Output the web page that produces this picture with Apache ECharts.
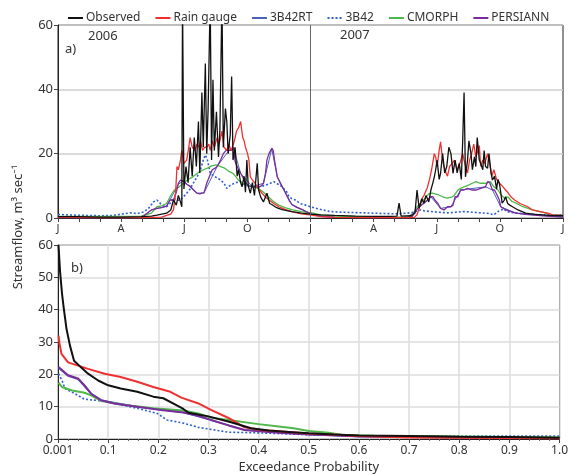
<!DOCTYPE html>
<html>
<head>
<meta charset="utf-8">
<script src="https://cdn.jsdelivr.net/npm/echarts@6/dist/echarts.min.js"></script>
<style>
  html, body { margin: 0; padding: 0; background: #fff; }
  #chart { width: 571px; height: 475px; }
</style>
</head>
<body>
<div id="chart"></div>
<script>
// day of record (0 = 1 Jan 2006), streamflow m3/s
const quarterLabels = ['J', 'A', 'J', 'O']
const seriesNames = ['Observed', 'Rain gauge', '3B42RT', '3B42', 'CMORPH', 'PERSIANN']

const obsDaily = [
  [0, 0.4], [30, 0.4], [60, 0.3], [90, 0.3], [120, 0.4], [135, 0.6], [143, 0.9], [150, 1.2], [157, 1.5],
  [163, 2.5], [167, 5.6], [171, 4], [174, 7], [177, 5], [179, 3.5], [180, 68], [182, 9], [185, 16], [188, 11],
  [191, 22], [194, 13], [197, 25], [200, 16], [203, 30], [205, 14], [208, 39], [210, 22], [213, 48], [215, 20],
  [217, 34], [220, 68], [222, 18], [224, 43], [226, 21], [229, 33], [232, 19], [234, 27], [237, 68], [239, 22],
  [242, 34], [244, 30], [246, 20], [249, 26], [251, 44], [253, 18], [256, 22], [259, 13], [261, 15], [264, 11],
  [266, 9.7], [269, 13], [271, 8], [273, 18], [275, 10], [278, 7.7], [281, 11], [284, 7], [288, 17], [290, 8.7],
  [293, 6.5], [297, 5], [302, 7.7], [306, 4.5], [309, 4.2], [316, 3.2], [324, 2.6], [338, 2.0], [352, 1.5],
  [365, 1.2], [380, 1.0], [400, 0.8], [430, 0.6], [460, 0.5], [480, 0.5], [490, 0.6], [493, 4.6], [496, 0.6],
  [510, 0.7], [516, 1.5], [519, 8.7], [522, 3], [526, 6], [529, 4.6], [532, 7], [536, 5], [539, 8.7], [542, 11],
  [544, 12.8], [546, 15], [548, 18], [551, 12], [553, 13.9], [556, 20], [559, 14], [562, 16], [565, 22], [568, 20],
  [571, 13.9], [574, 18], [577, 14], [580, 17], [583, 12], [585, 24], [587, 39], [589, 12.8], [592, 18], [594, 24],
  [597, 20], [599, 15], [602, 19], [604, 16], [606, 25], [609, 18], [611, 17], [614, 15], [616, 21], [618, 16],
  [621, 15.5], [623, 20], [626, 14], [628, 11.8], [631, 13], [634, 9], [636, 12], [638, 10.8], [640, 8], [642, 4.6],
  [645, 5.5], [647, 6.6], [650, 4.5], [653, 4], [657, 3.5], [665, 2.5], [676, 1.5], [690, 1.1], [710, 0.8], [730, 0.7]
]

const gaugeDaily = [
  [0, 0.2], [60, 0.1], [120, 0.1], [150, 0.3], [157, 0.8], [163, 1.2], [167, 2.6], [170, 8], [172, 16], [174, 15],
  [177, 18], [179, 21], [182, 17], [186, 18], [189, 22], [191, 25], [194, 22], [198, 21], [201, 23], [204, 22],
  [206, 24], [209, 21], [212, 22], [215, 22], [218, 23], [220, 21], [223, 24], [226, 22], [230, 25], [233, 23],
  [237, 27], [240, 22], [244, 21], [247, 23], [250, 21], [252, 22], [255, 24], [258, 27], [261, 28], [264, 30],
  [267, 25], [269, 24], [271, 22], [274, 20], [276, 18], [278, 12.8], [282, 11.5], [285, 10.8], [290, 9], [295, 7.7],
  [300, 6.5], [305, 5.6], [312, 4.5], [319, 3.5], [328, 2.7], [338, 2.0], [352, 1.3], [367, 0.9], [380, 0.4],
  [400, 0.2], [450, 0.1], [510, 0.1], [515, 0.2], [519, 1], [522, 3], [525, 5.6], [529, 7], [534, 9.5], [537, 12],
  [540, 15], [544, 20], [546, 19], [548, 16], [551, 21], [553, 23.7], [556, 18], [558, 16], [561, 14], [563, 13],
  [566, 16], [570, 17], [573, 18], [577, 15], [581, 17], [585, 20], [588, 17], [592, 14], [595, 18], [599, 21],
  [601, 23], [604, 19], [607, 21], [609, 22.5], [611, 16], [614, 18], [617, 17], [621, 20], [624, 17], [627, 13],
  [630, 15], [634, 12], [638, 10.8], [642, 10], [647, 8.7], [650, 8], [655, 6.5], [660, 5.6], [668, 4.5], [679, 3.5],
  [686, 2.5], [697, 2.0], [708, 1.5], [715, 1.0], [730, 0.8]
]

const rtDaily = [
  [0, 0.1], [120, 0.1], [135, 2.5], [157, 3.7], [174, 10.5], [181, 11.5], [201, 7.7], [211, 7.8], [230, 16],
  [247, 21], [254, 21.5], [264, 13.9], [281, 9.7], [297, 10.8], [309, 21.5], [317, 12.8], [338, 4.2], [367, 1.2],
  [400, 0.2], [505, 0.1], [529, 4.6], [539, 6.6], [553, 3], [568, 3.5], [582, 8.7], [618, 9.7], [628, 8.7],
  [640, 3.5], [662, 1.5], [730, 0.3]
]

const trmmDaily = [
  [0, 1.1], [20, 0.9], [40, 0.8], [60, 0.7], [80, 0.8], [104, 1.6], [115, 1.4], [124, 1.9], [131, 3], [138, 5],
  [143, 5.6], [148, 4.5], [153, 3.8], [157, 3.5], [162, 4.5], [167, 6.2], [172, 5.5], [177, 5.6], [181, 6.5],
  [186, 7.7], [191, 9], [196, 11], [201, 12.8], [206, 15], [210, 18], [213, 19.6], [216, 18], [220, 14], [225, 13],
  [230, 12.5], [235, 11.8], [240, 10.8], [244, 9.2], [248, 10], [252, 10.5], [257, 11], [264, 11.3], [270, 10.2],
  [278, 10], [286, 9.8], [293, 9.7], [300, 10.2], [307, 10.8], [312, 11.3], [318, 10.5], [324, 9.7], [331, 8],
  [334, 6.6], [338, 6], [343, 5.6], [350, 4.5], [358, 4], [365, 3.5], [372, 3.1], [383, 2.5], [394, 2.0], [410, 1.8],
  [442, 1.6], [470, 1.4], [490, 1.3], [505, 1.5], [514, 1.8], [524, 2.5], [530, 2.2], [539, 2.0], [550, 1.8],
  [563, 1.6], [575, 1.8], [587, 2.0], [600, 1.8], [611, 1.6], [620, 1.5], [630, 1.0], [636, 2.0], [640, 2.5],
  [645, 2.8], [648, 2.0], [660, 1.6], [680, 1.2], [700, 1.0], [730, 1.0]
]

const cmorphDaily = [
  [0, 0.5], [60, 0.5], [120, 0.6], [135, 1.5], [143, 3.5], [150, 3.8], [157, 4.5], [163, 7], [168, 8.7], [174, 9.5],
  [181, 10.8], [188, 12], [195, 12.8], [202, 14], [210, 15], [216, 15.5], [222, 16.2], [229, 16.5], [235, 16],
  [241, 15.5], [247, 14.5], [253, 13.9], [260, 12], [266, 10.8], [272, 10.5], [278, 10], [284, 9.5], [290, 9.2],
  [297, 8], [304, 6.6], [311, 5.2], [319, 4], [328, 3.2], [338, 2.6], [352, 2.0], [367, 1.6], [380, 1.0], [400, 0.6],
  [450, 0.4], [500, 0.3], [512, 0.5], [519, 3.5], [524, 4.5], [530, 6], [536, 7.5], [541, 7.7], [549, 7.3],
  [556, 6.6], [563, 6.2], [570, 6.6], [573, 7.1], [578, 8.7], [582, 9.2], [587, 9.7], [594, 10.3], [599, 10.8],
  [604, 11.3], [611, 10.8], [618, 10.8], [625, 11.3], [630, 9.7], [636, 8.7], [640, 7.3], [645, 6.2], [650, 6.6],
  [656, 5.2], [662, 4.6], [672, 3.5], [686, 2.5], [700, 1.8], [714, 1.0], [730, 0.8]
]

const persiannDaily = [
  [0, 0.1], [60, 0.1], [120, 0.1], [126, 1], [135, 2.5], [143, 3], [150, 3.2], [157, 3.7], [162, 5.6], [167, 5.6],
  [171, 8], [174, 10.8], [177, 11.8], [181, 11.6], [186, 10.5], [191, 9.9], [196, 8.7], [201, 7.7], [205, 7.5],
  [208, 7.7], [211, 7.8], [215, 10.8], [219, 13], [223, 15], [227, 15.5], [230, 16], [235, 18], [239, 20], [243, 21],
  [247, 21], [251, 21], [254, 22], [256, 17.6], [259, 16], [264, 13.9], [270, 11.5], [275, 10], [281, 9.7],
  [286, 9.7], [290, 9.7], [294, 10], [297, 10.8], [300, 14], [302, 18], [305, 20], [309, 21.7], [311, 21], [313, 18],
  [317, 12.8], [321, 11], [324, 9.7], [329, 7.7], [334, 5.5], [338, 4.2], [345, 3.3], [353, 2.6], [360, 1.8],
  [367, 1.2], [380, 0.5], [400, 0.2], [450, 0.1], [505, 0.1], [512, 0.5], [515, 1.5], [520, 3], [525, 4], [529, 4.6],
  [534, 5.5], [539, 6.6], [542, 6.6], [545, 5.5], [549, 4.6], [553, 3.0], [558, 2.5], [563, 3.5], [568, 3.5],
  [571, 4], [574, 6.6], [578, 6.6], [582, 8.7], [587, 8.7], [592, 9.2], [598, 8.7], [604, 8.7], [611, 9.2],
  [618, 9.7], [621, 11.3], [624, 11], [628, 8.7], [631, 8.7], [635, 7], [638, 5.6], [640, 3.5], [644, 3], [648, 2.5],
  [655, 2.0], [662, 1.5], [675, 1.1], [688, 0.9], [710, 0.5], [730, 0.3]
]

// flow duration curves: [exceedance probability, streamflow]
const obsFdc = [
  [0.001, 60], [0.004, 52], [0.008, 45], [0.011, 41], [0.017, 34], [0.024, 28.8], [0.032, 24.2], [0.047, 22],
  [0.06, 20.2], [0.08, 18.1], [0.1, 16.6], [0.125, 15.6], [0.158, 14.6], [0.19, 13.1], [0.21, 12.6], [0.236, 10.5],
  [0.25, 9.3], [0.26, 8.1], [0.3, 7], [0.345, 5.2], [0.385, 3.3], [0.42, 2.6], [0.46, 2.2], [0.5, 1.8], [0.55, 1.4],
  [0.6, 1.1], [0.7, 0.9], [0.8, 0.7], [0.9, 0.6], [1.0, 0.4]
]
const gaugeFdc = [
  [0.001, 32], [0.003, 29.5], [0.007, 26.3], [0.02, 23.7], [0.04, 22.7], [0.06, 21.7], [0.093, 20.2], [0.125, 19.2],
  [0.158, 17.7], [0.19, 16.1], [0.224, 14.6], [0.246, 12.8], [0.28, 11], [0.305, 9], [0.34, 6.5], [0.372, 3.6],
  [0.405, 2.8], [0.44, 2.4], [0.5, 1.7], [0.557, 1.3], [0.6, 0.9], [0.7, 0.5], [0.8, 0.4], [0.9, 0.3], [1.0, 0.2]
]
const rtFdc = [
  [0.001, 22], [0.02, 19.5], [0.04, 18.5], [0.066, 14], [0.086, 12], [0.158, 10], [0.25, 8.2], [0.305, 5.9],
  [0.372, 2.8], [0.5, 1.4], [0.6, 0.8], [0.8, 0.5], [1.0, 0.3]
]
const trmmFdc = [
  [0.001, 20.2], [0.008, 18.1], [0.014, 15.6], [0.034, 14], [0.053, 12.3], [0.08, 11.9], [0.106, 11.2], [0.158, 9.5],
  [0.198, 7.9], [0.217, 5.9], [0.25, 4.9], [0.28, 3.6], [0.34, 2.1], [0.4, 1.9], [0.47, 1.5], [0.5, 1.3], [0.6, 1.0],
  [0.7, 0.9], [0.8, 0.9], [0.9, 0.9], [1.0, 0.9]
]
const cmorphFdc = [
  [0.001, 17.4], [0.008, 16.1], [0.028, 15], [0.053, 14.3], [0.066, 13.5], [0.086, 11.8], [0.125, 10.7], [0.19, 9.5],
  [0.25, 8.8], [0.28, 7.9], [0.305, 6.6], [0.34, 5.9], [0.4, 4.6], [0.44, 3.9], [0.47, 3.3], [0.5, 2.5], [0.54, 1.9],
  [0.57, 1.2], [0.63, 1.0], [0.7, 0.9], [0.8, 0.8], [0.9, 0.6], [1.0, 0.5]
]
const persiannFdc = [
  [0.001, 22.3], [0.02, 19.7], [0.04, 18.7], [0.053, 16.6], [0.066, 14], [0.086, 12], [0.112, 11], [0.158, 10],
  [0.205, 9], [0.25, 8.2], [0.28, 7.2], [0.305, 5.9], [0.34, 4.2], [0.372, 2.8], [0.44, 1.9], [0.5, 1.4], [0.557, 1.1],
  [0.6, 0.8], [0.7, 0.6], [0.8, 0.5], [0.9, 0.4], [1.0, 0.3]
]

const colors = {
  Observed: '#111111',
  'Rain gauge': '#f03030',
  '3B42RT': '#4a63b8',
  '3B42': '#2f5fd0',
  CMORPH: '#4fb84a',
  PERSIANN: '#7b2c9c'
}

const font = 'Noto Sans'
const monthStep = 730 / 24

const chart = echarts.init(document.getElementById('chart'))

const makeLine = (name, data, axis, width, dotted) => ({
  name,
  type: 'line',
  xAxisIndex: axis,
  yAxisIndex: axis,
  data,
  symbol: 'none',
  animation: false,
  color: colors[name],
  lineStyle: { color: colors[name], width, type: dotted ? [2, 2] : 'solid' }
})

const topSeries = [
  makeLine('3B42RT', rtDaily, 0, 1),
  makeLine('3B42', trmmDaily, 0, 1.6, true),
  makeLine('CMORPH', cmorphDaily, 0, 1.3),
  makeLine('PERSIANN', persiannDaily, 0, 1.3),
  makeLine('Rain gauge', gaugeDaily, 0, 1.3),
  makeLine('Observed', obsDaily, 0, 1.3)
]
topSeries[5].markLine = {
  silent: true,
  symbol: 'none',
  label: { show: false },
  lineStyle: { color: '#666', width: 1, type: 'solid' },
  data: [{ xAxis: 365 }]
}

const bottomSeries = [
  makeLine('3B42RT', rtFdc, 1, 1.5),
  makeLine('3B42', trmmFdc, 1, 1.6, true),
  makeLine('CMORPH', cmorphFdc, 1, 2),
  makeLine('PERSIANN', persiannFdc, 1, 2),
  makeLine('Rain gauge', gaugeFdc, 1, 2),
  makeLine('Observed', obsFdc, 1, 2)
]

const axisText = { color: '#333', fontFamily: font, fontSize: 12 }

const option = {
  backgroundColor: '#fff',
  legend: {
    data: seriesNames,
    top: 7,
    left: 62,
    right: 0,
    itemWidth: 15,
    itemHeight: 10,
    itemGap: 14,
    itemStyle: { color: 'rgba(0,0,0,0)', borderWidth: 0 },
    textStyle: { color: '#333', fontFamily: font, fontSize: 12, padding: [0, 0, 0, -2] }
  },
  grid: [
    { left: 58, right: 8, top: 25, height: 193, show: true, borderColor: '#222', borderWidth: 1 },
    { left: 58, right: 6, top: 245, bottom: 34, show: true, borderColor: '#222', borderWidth: 1 }
  ],
  xAxis: [
    {
      gridIndex: 0,
      type: 'value',
      min: 0,
      max: 730,
      interval: monthStep,
      axisLine: { lineStyle: { color: '#222' } },
      axisTick: { length: 4, lineStyle: { color: '#444' } },
      splitLine: { show: false },
      axisLabel: {
        ...axisText,
        fontSize: 11,
        margin: 5,
        formatter: (v) => {
          const i = Math.round(v / monthStep)
          return i % 3 === 0 ? quarterLabels[(i / 3) % 4] : ''
        }
      }
    },
    {
      gridIndex: 1,
      type: 'value',
      min: 0,
      max: 1,
      interval: 0.1,
      name: 'Exceedance Probability',
      nameLocation: 'middle',
      nameGap: 22,
      nameTextStyle: { color: '#333', fontFamily: font, fontSize: 13 },
      axisLine: { lineStyle: { color: '#222' } },
      axisTick: { length: 4, lineStyle: { color: '#444' } },
      minorTick: { show: true, splitNumber: 5, length: 2, lineStyle: { color: '#666' } },
      splitLine: { show: true, lineStyle: { color: '#dcdcdc', width: 1.5 } },
      axisLabel: {
        ...axisText,
        margin: 6,
        formatter: (v) => (v === 0 ? '0.001' : v.toFixed(1))
      }
    }
  ],
  yAxis: [
    {
      gridIndex: 0,
      type: 'value',
      min: 0,
      max: 60,
      interval: 20,
      axisLine: { show: true, lineStyle: { color: '#222' } },
      axisTick: { show: true, length: 4, lineStyle: { color: '#444' } },
      splitLine: { show: true, lineStyle: { color: '#cfcfcf', width: 1.5 } },
      axisLabel: { ...axisText, fontSize: 13, margin: 5 }
    },
    {
      gridIndex: 1,
      type: 'value',
      min: 0,
      max: 60,
      interval: 10,
      axisLine: { show: true, lineStyle: { color: '#222' } },
      axisTick: { show: true, length: 4, lineStyle: { color: '#444' } },
      splitLine: { show: true, lineStyle: { color: '#dcdcdc', width: 1.5 } },
      axisLabel: { ...axisText, fontSize: 13, margin: 5 }
    }
  ],
  graphic: [
    { type: 'text', left: 88, top: 30, style: { text: '2006', font: '13px "Noto Sans"', fill: '#333' } },
    { type: 'text', left: 65, top: 43, style: { text: 'a)', font: '13px "Noto Sans"', fill: '#333' } },
    { type: 'text', left: 340, top: 29, style: { text: '2007', font: '13px "Noto Sans"', fill: '#333' } },
    { type: 'text', left: 71, top: 262, style: { text: 'b)', font: '13px "Noto Sans"', fill: '#333' } },
    {
      type: 'text',
      x: 18,
      y: 227,
      rotation: Math.PI / 2,
      style: {
        text: 'Streamflow, m³ sec⁻¹',
        font: '13px "Noto Sans"',
        fill: '#333',
        textAlign: 'center',
        textVerticalAlign: 'middle'
      }
    }
  ],
  series: [...topSeries, ...bottomSeries]
}

chart.setOption(option)
</script>
</body>
</html>
